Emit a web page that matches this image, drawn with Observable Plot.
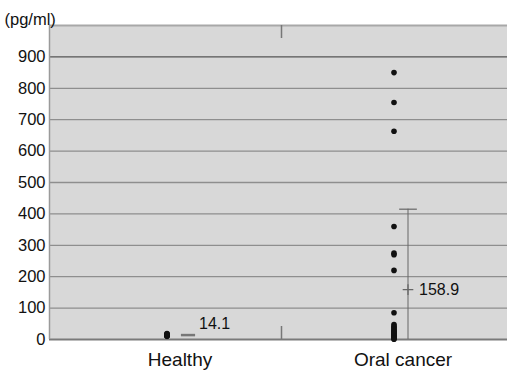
<!DOCTYPE html>
<html>
<head>
<meta charset="utf-8">
<script src="https://cdn.jsdelivr.net/npm/d3@7"></script>
<script src="https://cdn.jsdelivr.net/npm/@observablehq/plot@0.6"></script>
<style>
  html, body { margin: 0; padding: 0; background: #fff; }
  svg { display: block; }
</style>
</head>
<body>
<div id="chart"></div>
<script>
// ---- data ----
const categories = ["Healthy", "Oral cancer"];
const healthyValues = [10, 11, 12, 13, 14, 14, 15, 16, 17, 19];
const oralValues = [850, 755, 663, 360, 275, 270, 220, 85,
  48, 42, 38, 34, 30, 27, 24, 21, 18, 15, 12, 10, 8, 5, 3, 1];
const means = [14.1, 158.9];
const meanLabels = ["14.1", "158.9"];
const errorTops = [19, 415];
const yTicks = [0, 100, 200, 300, 400, 500, 600, 700, 800, 900];
const yTop = 1000;
const yLabel = "(pg/ml)";

// ---- derived tables ----
const pos = c => categories.indexOf(c) + 0.5;
const healthy = healthyValues.map(v => ({x: pos("Healthy"), y: v}));
const oral = oralValues.map(v => ({x: pos("Oral cancer"), y: v}));
const stats = categories.map((c, i) => ({x: pos(c), mean: means[i], label: meanLabels[i], top: errorTops[i]}));

// custom symbols
const hline = {draw(ctx, size) { const r = Math.sqrt(size); ctx.moveTo(-r, 0); ctx.lineTo(r, 0); }};
const plus = {draw(ctx, size) { const r = Math.sqrt(size) * 0.6; ctx.moveTo(-r, 0); ctx.lineTo(r, 0); ctx.moveTo(0, -r); ctx.lineTo(0, r); }};

const xAxisStyle = {tickSize: 0, tickPadding: 13, fontSize: 19, color: "#111", label: null,
  tickFormat: d => categories[Math.floor(d)]};

const chart = Plot.plot({
  width: 507,
  height: 374,
  marginLeft: 49,
  marginRight: 0,
  marginTop: 25,
  marginBottom: 35,
  style: {fontFamily: "'Liberation Sans', Arial, sans-serif", background: "#fff"},
  x: {domain: [0, categories.length], axis: null},
  y: {domain: [0, yTop], axis: null},
  marks: [
    Plot.frame({fill: "#d8d8d8", stroke: null}),
    Plot.ruleY(yTicks.filter(d => d > 0 && d < 900), {stroke: "#8e8e8e", strokeWidth: 1.3}),
    Plot.ruleY([900], {stroke: "#555", strokeWidth: 1.3}),
    Plot.ruleY([yTop], {stroke: "#a8a8a8", strokeWidth: 2}),
    Plot.ruleY([0], {stroke: "#7a7a7a", strokeWidth: 2}),
    Plot.ruleX([0], {stroke: "#9a9a9a", strokeWidth: 1.5}),
    // category divider ticks
    Plot.ruleX([1], {stroke: "#777", strokeWidth: 1.5, dx: 3, insetBottom: 301}),
    Plot.ruleX([1], {stroke: "#777", strokeWidth: 1.5, dx: 3, insetTop: 301}),
    // y axis
    Plot.axisY({ticks: yTicks, tickSize: 0, tickPadding: 4, fontSize: 16.5, color: "#111",
      label: null}),
    Plot.text([yLabel], {frameAnchor: "top-left", dx: -45, dy: -12, textAnchor: "start", fontSize: 16.5, fill: "#111"}),
    // x axis
    Plot.axisX({...xAxisStyle, ticks: [pos("Healthy")], dx: 16}),
    Plot.axisX({...xAxisStyle, ticks: [pos("Oral cancer")], dx: 10}),
    // error bars
    Plot.ruleX(stats.slice(1), {x: "x", y1: 0, y2: "top", stroke: "#666", strokeWidth: 1, dx: 15}),
    Plot.dot(stats.slice(1), {x: "x", y: "top", symbol: hline, r: 5, stroke: "#666", strokeWidth: 1.2, dx: 15}),
    Plot.dot(stats.slice(1), {x: "x", y: "mean", symbol: plus, r: 5, stroke: "#666", strokeWidth: 1.2, dx: 15}),
    Plot.dot(stats.slice(0, 1), {x: "x", y: "mean", symbol: hline, r: 4, stroke: "#777", strokeWidth: 2.5, dx: 24}),
    // points
    Plot.dot(healthy, {x: "x", y: "y", r: 2.8, fill: "#111", stroke: null, dx: 3}),
    Plot.dot(oral, {x: "x", y: "y", r: 2.8, fill: "#111", stroke: null, dx: 1}),
    // mean labels
    Plot.text(stats.slice(0, 1), {x: "x", y: "mean", text: "label", dx: 35, dy: -11, textAnchor: "start", fontSize: 16, fill: "#111"}),
    Plot.text(stats.slice(1), {x: "x", y: "mean", text: "label", dx: 26, textAnchor: "start", fontSize: 16, fill: "#111"})
  ]
});
document.getElementById("chart").appendChild(chart);
</script>
</body>
</html>
